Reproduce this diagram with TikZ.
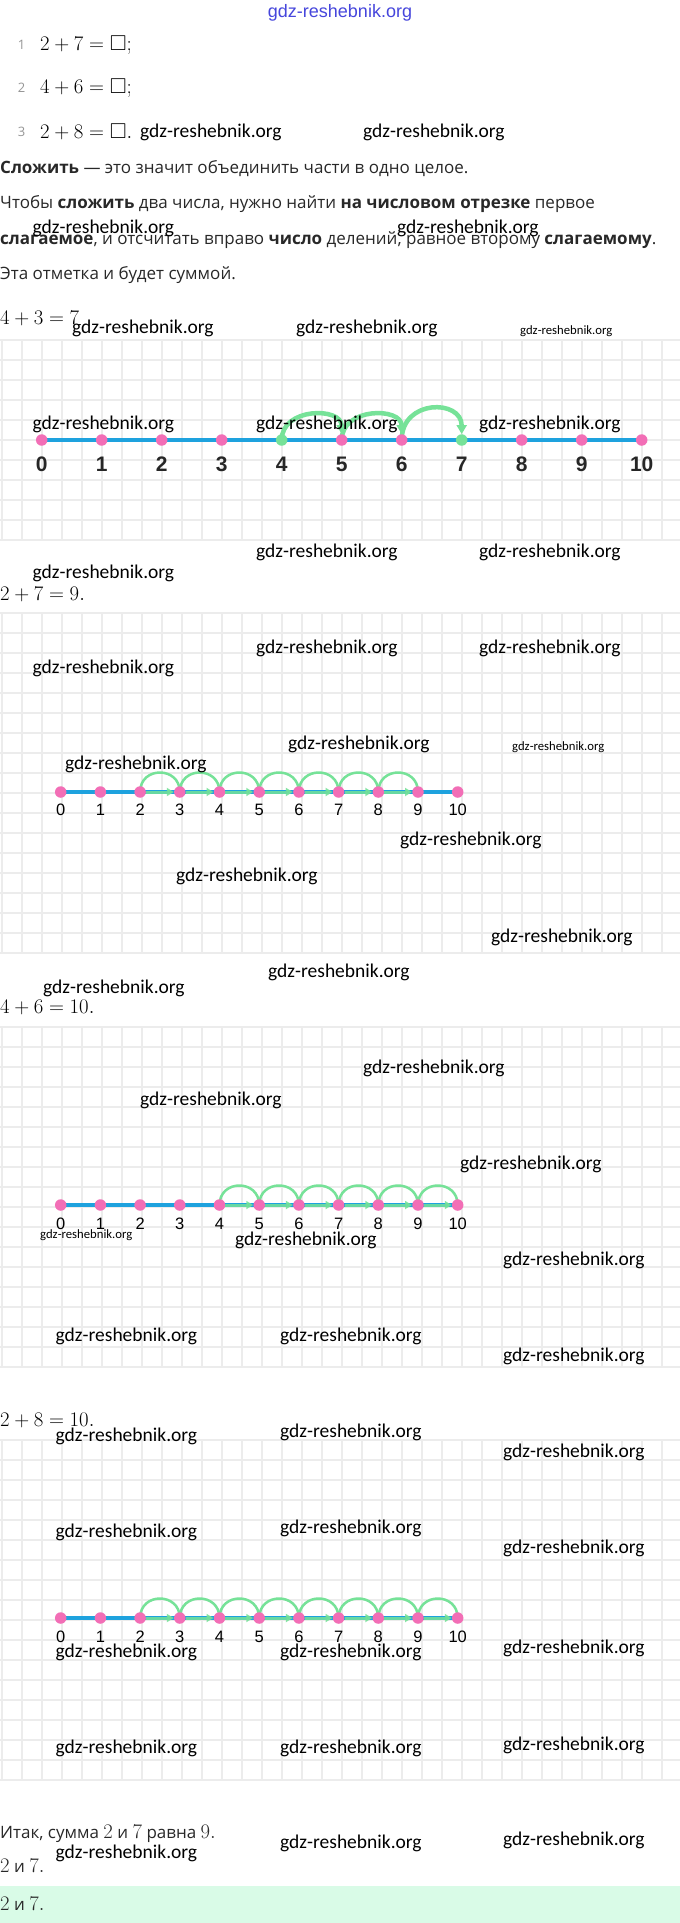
\documentclass[tikz,border=0pt]{standalone}
\usepackage{fontspec}
\usepackage{amssymb}
\setmainfont{Open Sans}
\newfontfamily\wmfont{Carlito}
\newfontfamily\digfont{Liberation Sans}
\usetikzlibrary{arrows.meta}

\definecolor{dotpink}{RGB}{242,110,182}
\definecolor{lineblue}{RGB}{30,162,222}
\definecolor{jumpgreen}{RGB}{118,226,152}
\definecolor{gridgray}{RGB}{236,236,236}
\definecolor{textgray}{RGB}{40,40,40}
\definecolor{listgray}{RGB}{150,150,150}
\definecolor{answermint}{RGB}{217,251,231}
\definecolor{headblue}{RGB}{70,70,220}

\pgfdeclarelayer{gridlayer}
\pgfdeclarelayer{linelayer}
\pgfsetlayers{gridlayer,linelayer,main}

\newcommand\mathnum[1]{{\fontsize{21.5}{22}\selectfont$#1$}}

\tikzset{
  wmark/.style={font=\wmfont\fontsize{19.5}{20}\selectfont, anchor=west, inner sep=0pt},
  wmarksmall/.style={font=\wmfont\fontsize{12.7}{13}\selectfont, anchor=west, inner sep=0pt},
  headmark/.style={font=\digfont\fontsize{18}{18}\selectfont, text=headblue, inner sep=0pt},
  bodytext/.style={font=\fontsize{17}{18}\selectfont, text=textgray, anchor=west, inner sep=0pt},
  mathline/.style={font=\fontsize{21.5}{22}\selectfont, anchor=west, inner sep=0pt},
  listnum/.style={font=\fontsize{13}{14}\selectfont, text=listgray, inner sep=0pt},
  markdot/.style={circle, fill=dotpink, minimum size=11.5pt, inner sep=0pt},
  biglab/.style={font=\digfont\bfseries\fontsize{21}{22}\selectfont, text=black!85, inner sep=0pt},
  smalllab/.style={font=\digfont\fontsize{16.5}{17}\selectfont, inner sep=0pt},
  numaxis/.style={draw=lineblue, line width=4.5pt},
  hop/.style={draw=jumpgreen, line width=2.5pt},
  bighop/.style={draw=jumpgreen, line width=4.5pt, -{Triangle[length=9pt,width=10pt]}},
  slide/.style={draw=jumpgreen, opacity=0.85, line width=3pt, -{Triangle[length=7pt,width=8pt]}},
  gridline/.style={draw=gridgray, line width=1.2pt},
}

\begin{document}
\begin{tikzpicture}[x=1pt,y=-1pt]
  \useasboundingbox (0,0) rectangle (680,1923);

  % squared paper
  \begin{pgfonlayer}{gridlayer}
    \fill[white] (0,0) rectangle (680,1923);
    \foreach \gtop/\grows in {340/10,613/17,1027/17,1440/17} {
      \foreach \gx in {2,22,...,662}
        \draw[gridline] (\gx,\gtop) -- (\gx,\gtop+20*\grows);
      \foreach \r in {0,...,\grows}
        \draw[gridline] (0,\gtop+20*\r) -- (680,\gtop+20*\r);
    }
  \end{pgfonlayer}

  \node[headmark] (head) at (340,12.5) {gdz-reshebnik.org};

  \node[listnum] (n1) at (21.5,45) {1};
  \node[mathline] (q1) at (40,45) {$2+7=\square;$};
  \node[listnum] (n2) at (21.5,88) {2};
  \node[mathline] (q2) at (40,88) {$4+6=\square;$};
  \node[listnum] (n3) at (21.5,132) {3};
  \node[mathline] (q3) at (40,132) {$2+8=\square.$};

  \node[bodytext] (s1) at (0,169) {\textbf{Сложить} — это значит объединить части в одно целое.};
  \node[bodytext] (s2) at (0,204) {Чтобы \textbf{сложить} два числа, нужно найти \textbf{на числовом отрезке} первое};
  \node[bodytext] (s3) at (0,240) {\textbf{слагаемое}, и отсчитать вправо \textbf{число} делений, равное второму \textbf{слагаемому}.};
  \node[bodytext] (s4) at (0,275) {Эта отметка и будет суммой.};

  % 4+3=7
  \node[mathline] (e1) at (0,318) {$4+3=7$};
  \foreach \k/\c in {0/dotpink,1/dotpink,2/dotpink,3/dotpink,4/jumpgreen,5/dotpink,
                     6/dotpink,7/jumpgreen,8/dotpink,9/dotpink,10/dotpink} {
    \node[markdot, fill=\c] (a\k) at (41.7+60*\k,440) {};
    \node[biglab] (la\k) at (41.7+60*\k,464) {\k};
  }
  \begin{pgfonlayer}{linelayer}
    \draw[numaxis] (a0.center) -- (a10.center);
    \draw[bighop] (a4.center) .. controls +(0,-33) and +(0,-33) .. (a5);
    \draw[bighop] (a5.center) .. controls +(0,-33) and +(0,-33) .. (a6);
    \draw[bighop] (a6.center) .. controls +(0,-41) and +(0,-41) .. (a7);
  \end{pgfonlayer}

  % 2+7=9
  \node[mathline] (e2) at (0,594) {$2+7=9.$};
  \foreach \k in {0,...,10} {
    \node[markdot] (b\k) at (60.7+39.7*\k,792) {};
    \node[smalllab] (lb\k) at (60.7+39.7*\k,810) {\k};
  }
  \begin{pgfonlayer}{linelayer}
    \draw[numaxis, line width=4pt] (b0.center) -- (b10.center);
    \foreach \k in {2,...,8} {
      \pgfmathtruncatemacro\n{\k+1}
      \draw[hop] (b\k.center) .. controls +(0,-26) and +(0,-26) .. (b\n.center);
    }
  \end{pgfonlayer}
  \foreach \k in {2,...,8} {
    \pgfmathtruncatemacro\n{\k+1}
    \draw[slide] (b\k) -- (b\n);
  }

  % 4+6=10
  \node[mathline] (e3) at (0,1007) {$4+6=10.$};
  \foreach \k in {0,...,10} {
    \node[markdot] (c\k) at (60.7+39.7*\k,1205) {};
    \node[smalllab] (lc\k) at (60.7+39.7*\k,1224) {\k};
  }
  \begin{pgfonlayer}{linelayer}
    \draw[numaxis, line width=4pt] (c0.center) -- (c10.center);
    \foreach \k in {4,...,9} {
      \pgfmathtruncatemacro\n{\k+1}
      \draw[hop] (c\k.center) .. controls +(0,-26) and +(0,-26) .. (c\n.center);
    }
  \end{pgfonlayer}
  \foreach \k in {4,...,9} {
    \pgfmathtruncatemacro\n{\k+1}
    \draw[slide] (c\k) -- (c\n);
  }

  % 2+8=10
  \node[mathline] (e4) at (0,1420) {$2+8=10.$};
  \foreach \k in {0,...,10} {
    \node[markdot] (d\k) at (60.7+39.7*\k,1618) {};
    \node[smalllab] (ld\k) at (60.7+39.7*\k,1637) {\k};
  }
  \begin{pgfonlayer}{linelayer}
    \draw[numaxis, line width=4pt] (d0.center) -- (d10.center);
    \foreach \k in {2,...,9} {
      \pgfmathtruncatemacro\n{\k+1}
      \draw[hop] (d\k.center) .. controls +(0,-26) and +(0,-26) .. (d\n.center);
    }
  \end{pgfonlayer}
  \foreach \k in {2,...,9} {
    \pgfmathtruncatemacro\n{\k+1}
    \draw[slide] (d\k) -- (d\n);
  }

  % answer
  \node[bodytext] (sum) at (0,1834) {Итак, сумма \mathnum{2} и \mathnum{7} равна \mathnum{9.}};
  \node[bodytext] (ans1) at (0,1866) {\mathnum{2} и \mathnum{7.}};
  \fill[answermint] (0,1886) rectangle (680,1923);
  \node[bodytext] (ans2) at (0,1904) {\mathnum{2} и \mathnum{7.}};

  % watermarks
  \foreach \wx/\wy [count=\i] in {140/132,363/132,32.5/228,397/228,72/328,296/328,
      32.5/424,256/424,479/424,256/552,479/552,32.5/573,
      256/648,479/648,32.5/668,288/744,65/764,400/840,176/876,491/937,268/972,43/988,
      363/1068,140/1100,460/1164,235/1240,503/1260,55.5/1336,280/1336,503/1356,
      55.5/1436,280/1432,503/1452,55.5/1532,280/1528,503/1548,
      55.5/1652,280/1652,503/1648,55.5/1748,280/1748,503/1745,
      55.5/1853,280/1843,503/1840}
    \node[wmark] (wm\i) at (\wx,\wy) {gdz-reshebnik.org};
  \foreach \wx/\wy [count=\i] in {520/331,512/747,40/1235}
    \node[wmarksmall] (ws\i) at (\wx,\wy) {gdz-reshebnik.org};
\end{tikzpicture}
\end{document}
